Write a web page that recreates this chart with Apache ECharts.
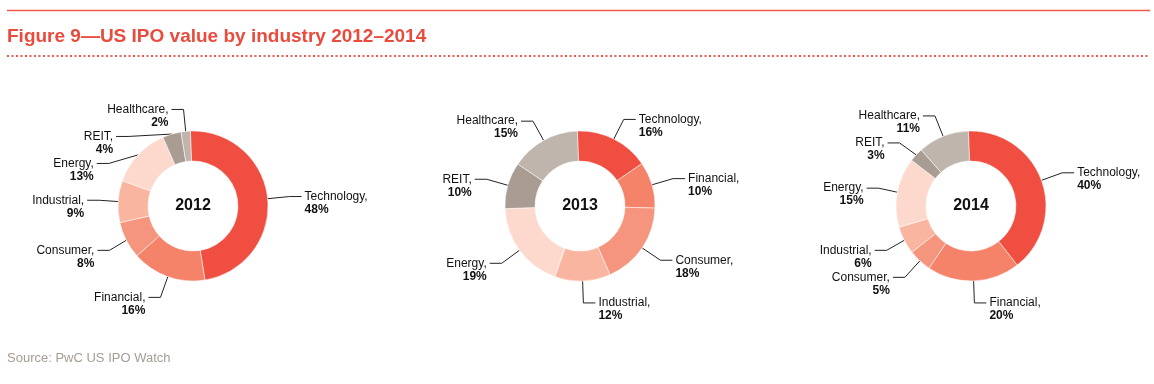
<!DOCTYPE html>
<html>
<head>
<meta charset="utf-8">
<script src="https://cdn.jsdelivr.net/npm/echarts@6/dist/echarts.min.js"></script>
<style>
html,body{margin:0;padding:0;background:#fff;}
#main{width:1154px;height:384px;}
</style>
</head>
<body>
<div id="main"></div>
<script>
const categories = ['Technology', 'Financial', 'Consumer', 'Industrial', 'Energy', 'REIT', 'Healthcare'];
const years = ['2012', '2013', '2014'];
const values2012 = [48, 16, 8, 9, 13, 4, 2];
const values2013 = [16, 10, 18, 12, 19, 10, 15];
const values2014 = [40, 20, 5, 6, 15, 3, 11];
const titleText = 'Figure 9\u2014US IPO value by industry 2012\u20132014';
const sourceText = 'Source: PwC US IPO Watch';

const colors = ['#F04E40', '#F4836A', '#F6957D', '#F9B5A0', '#FDD8CD', '#A89C93', '#C0B5AC'];
const centers = [[193, 206], [580, 206], [971, 206]];
const allValues = [values2012, values2013, values2014];

const chart = echarts.init(document.getElementById('main'));

const series = allValues.map((vals, i) => ({
  type: 'pie',
  center: centers[i],
  radius: [45, 75],
  startAngle: 92,
  clockwise: true,
  avoidLabelOverlap: true,
  itemStyle: { borderColor: '#fff', borderWidth: 0.5 },
  label: {
    show: true,
    position: 'outside',
    distanceToLabelLine: 3,
    padding: [13, 0, 0, 0],
    formatter: p => '{n|' + p.name + ',}\n{v|' + p.value + '%}',
    rich: {
      n: { fontFamily: 'Liberation Sans', fontSize: 12, color: '#111', lineHeight: 13 },
      v: { fontFamily: 'Liberation Sans', fontSize: 12, fontWeight: 'bold', color: '#111', lineHeight: 13 }
    }
  },
  labelLine: {
    show: true,
    length: 22,
    length2: 12,
    lineStyle: { color: '#222', width: 1 }
  },
  emphasis: { disabled: true },
  data: categories.map((c, k) => ({ name: c, value: vals[k], itemStyle: { color: colors[k] } }))
}));

const graphics = [
  { type: 'line', shape: { x1: 7, y1: 10.5, x2: 1150, y2: 10.5 }, style: { stroke: '#F0584A', lineWidth: 1.5 } },
  { type: 'line', shape: { x1: 7, y1: 56, x2: 1150, y2: 56 }, style: { stroke: '#F0584A', lineWidth: 2, lineDash: [2, 2.5] } },
  { type: 'text', left: 7, top: 352, style: { text: sourceText, fontFamily: 'Liberation Sans', fontSize: 13, fill: '#A79C94' } }
];
years.forEach((y, i) => {
  graphics.push({
    type: 'text',
    x: centers[i][0], y: centers[i][1],
    style: { text: y, fontFamily: 'Liberation Sans', fontSize: 16, fontWeight: 'bold', fill: '#111', align: 'center', verticalAlign: 'middle' }
  });
});

chart.setOption({
  animation: false,
  title: {
    text: titleText,
    left: 2, top: 22,
    textStyle: { fontFamily: 'Liberation Sans', fontSize: 19, fontWeight: 'bold', color: '#E94B3D' }
  },
  graphic: graphics,
  series: series
});
</script>
</body>
</html>
